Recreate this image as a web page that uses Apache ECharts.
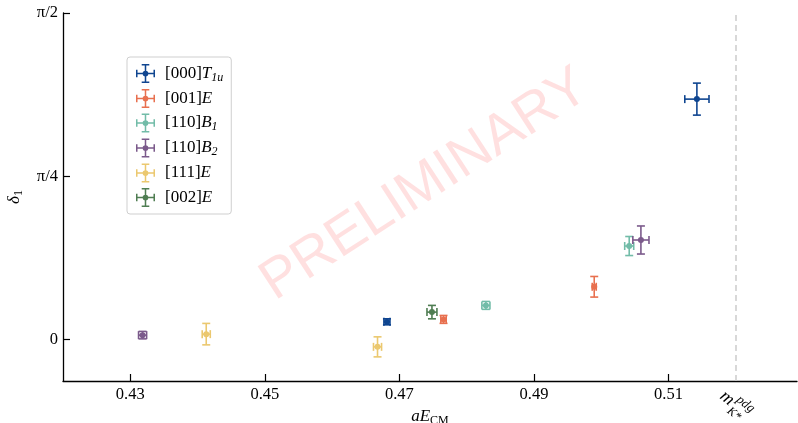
<!DOCTYPE html>
<html><head><meta charset="utf-8">
<script src="https://cdn.jsdelivr.net/npm/echarts@6/dist/echarts.min.js"></script>
<style>html,body{margin:0;padding:0;background:#fff}#c{width:798px;height:423px}</style>
</head><body><div id="c"></div>
<script>
// ---- data ----
const seriesNames = ['[000]T1u', '[001]E', '[110]B1', '[110]B2', '[111]E', '[002]E'];
const t1u_x  = [0.46815, 0.51422];
const t1u_y  = [0.0848, 1.1564];
const t1u_xe = [0.00045, 0.0018];
const t1u_ye = [0.0145, 0.077];
const e001_x  = [0.47656, 0.49896];
const e001_y  = [0.0964, 0.2534];
const e001_xe = [0.0004, 0.0003];
const e001_ye = [0.019, 0.0496];
const b1_x  = [0.48286, 0.50416];
const b1_y  = [0.1638, 0.4495];
const b1_xe = [0.0006, 0.00067];
const b1_ye = [0.019, 0.0458];
const b2_x  = [0.43183, 0.5059];
const b2_y  = [0.0207, 0.4785];
const b2_xe = [0.0006, 0.0012];
const b2_ye = [0.018, 0.0675];
const e111_x  = [0.44129, 0.46675];
const e111_y  = [0.0255, -0.0357];
const e111_xe = [0.0006, 0.0006];
const e111_ye = [0.0516, 0.0482];
const e002_x  = [0.47484];
const e002_y  = [0.1315];
const e002_xe = [0.00074];
const e002_ye = [0.0323];
const mKpdg = 0.51704;
const xTicks = [0.43, 0.45, 0.47, 0.49, 0.51];
const yTicks = [0, Math.PI / 4, Math.PI / 2];
const yTickLabels = ['0', 'π/4', 'π/2'];

const colors = ['#0f4590', '#e8704f', '#72bca8', '#7b5a8b', '#ebc86f', '#4f7d52'];
const groups = [
  [t1u_x, t1u_y, t1u_xe, t1u_ye],
  [e001_x, e001_y, e001_xe, e001_ye],
  [b1_x, b1_y, b1_xe, b1_ye],
  [b2_x, b2_y, b2_xe, b2_ye],
  [e111_x, e111_y, e111_xe, e111_ye],
  [e002_x, e002_y, e002_xe, e002_ye]
];
const legendRich = {
  '[000]T1u': '{n|[000]}{i|T}{s|1u}',
  '[001]E': '{n|[001]}{i|E}',
  '[110]B1': '{n|[110]}{i|B}{s|1}',
  '[110]B2': '{n|[110]}{i|B}{s|2}',
  '[111]E': '{n|[111]}{i|E}',
  '[002]E': '{n|[002]}{i|E}'
};
const SERIF = 'Liberation Serif';
const CAP = 4;

function renderItem(params, api) {
  const x = api.value(0), y = api.value(1), xe = api.value(2), ye = api.value(3);
  const c = api.coord([x, y]);
  const l = api.coord([x - xe, y]), r = api.coord([x + xe, y]);
  const t = api.coord([x, y + ye]), b = api.coord([x, y - ye]);
  const color = api.visual('color');
  const st = { stroke: color, lineWidth: 1.6, fill: null };
  const line = (x1, y1, x2, y2) => ({ type: 'line', shape: { x1, y1, x2, y2 }, style: st });
  return {
    type: 'group',
    children: [
      line(l[0], l[1], r[0], r[1]),
      line(t[0], t[1], b[0], b[1]),
      line(l[0], l[1] - CAP, l[0], l[1] + CAP),
      line(r[0], r[1] - CAP, r[0], r[1] + CAP),
      line(t[0] - CAP, t[1], t[0] + CAP, t[1]),
      line(b[0] - CAP, b[1], b[0] + CAP, b[1]),
      { type: 'circle', shape: { cx: c[0], cy: c[1], r: 3 }, style: { fill: color } }
    ]
  };
}

const series = groups.map((g, i) => ({
  name: seriesNames[i],
  type: 'custom',
  renderItem,
  itemStyle: { color: colors[i] },
  encode: { x: 0, y: 1 },
  z: 3,
  data: g[0].map((xv, k) => [xv, g[1][k], g[2][k], g[3][k]])
}));
series.push({
  type: 'line', data: [], silent: true,
  markLine: {
    silent: true, symbol: 'none', label: { show: false },
    lineStyle: { color: '#cccccc', type: [6, 4], width: 1.5 },
    data: [{ xAxis: mKpdg }]
  }
});

const icon = 'path://M0,9.2h20v1.6h-20z M9.2,0h1.6v20h-1.6z M6,0h8v1.6h-8z M6,18.4h8v1.6h-8z M0,6h1.6v8h-1.6z M18.4,6h1.6v8h-1.6z M13,10A3,3 0 1,1 7,10A3,3 0 1,1 13,10z';

const chart = echarts.init(document.getElementById('c'), null, { renderer: 'canvas' });
chart.setOption({
  animation: false,
  backgroundColor: '#fff',
  grid: { left: 63, right: 1, top: 13, bottom: 42, containLabel: false, outerBoundsMode: 'none' },
  xAxis: {
    type: 'value', min: 0.42, max: 0.5291,
    name: '{i|aE}{s|CM}', nameLocation: 'middle', nameGap: 18,
    nameTextStyle: { rich: {
      i: { fontFamily: SERIF, fontStyle: 'italic', fontSize: 17, color: '#000' },
      s: { fontFamily: SERIF, fontSize: 12, color: '#000', padding: [8, 0, 0, 0] }
    } },
    axisLine: { show: true, onZero: false, lineStyle: { color: '#000', width: 1.3 } },
    axisTick: { show: true, inside: true, length: 7, customValues: xTicks, lineStyle: { color: '#000', width: 1.2 } },
    axisLabel: { customValues: xTicks, formatter: v => v.toFixed(2), fontFamily: SERIF, fontSize: 16.5, color: '#000', margin: 5 },
    splitLine: { show: false }
  },
  yAxis: {
    type: 'value', min: -0.2, max: Math.PI / 2,
    name: '{i|δ}{s|1}', nameLocation: 'middle', nameGap: 38, nameRotate: 90,
    nameTextStyle: { rich: {
      i: { fontFamily: SERIF, fontStyle: 'italic', fontSize: 17, color: '#000' },
      s: { fontFamily: SERIF, fontSize: 12, color: '#000', padding: [8, 0, 0, 0] }
    } },
    axisLine: { show: true, onZero: false, lineStyle: { color: '#000', width: 1.3 } },
    axisTick: { show: true, inside: true, length: 7, customValues: yTicks, lineStyle: { color: '#000', width: 1.2 } },
    axisLabel: {
      customValues: yTicks,
      formatter: v => { for (let k = 0; k < yTicks.length; k++) if (Math.abs(v - yTicks[k]) < 1e-6) return yTickLabels[k]; return ''; },
      fontFamily: SERIF, fontSize: 16.5, color: '#000', margin: 5
    },
    splitLine: { show: false }
  },
  legend: {
    orient: 'vertical', left: 127, top: 57,
    padding: [7, 8, 7, 9], itemGap: 5.5,
    itemWidth: 19, itemHeight: 19, icon,
    borderColor: '#cfcfcf', borderWidth: 1, borderRadius: 3,
    data: seriesNames,
    formatter: n => legendRich[n],
    textStyle: {
      padding: [0, 0, 0, 5],
      rich: {
        n: { fontFamily: SERIF, fontSize: 17, color: '#000' },
        i: { fontFamily: SERIF, fontStyle: 'italic', fontSize: 17, color: '#000' },
        s: { fontFamily: SERIF, fontStyle: 'italic', fontSize: 12, color: '#000', padding: [8, 0, 0, 0] }
      }
    }
  },
  series
});

// watermark and rotated m_K*^pdg label below the dashed line
const px = chart.convertToPixel({ xAxisIndex: 0 }, mKpdg);
chart.setOption({
  graphic: [{
    type: 'text', z: 1, silent: true,
    x: 425, y: 185, rotation: 33 * Math.PI / 180,
    style: { text: 'PRELIMINARY', fontFamily: 'Liberation Sans', fontSize: 56, fill: 'rgba(255,0,0,0.12)', align: 'center', verticalAlign: 'middle' }
  }, {
    type: 'group', x: px + 6, y: 394, rotation: -0.68,
    children: [
      { type: 'text', x: 0, y: 0, style: { text: 'm', fontFamily: SERIF, fontStyle: 'italic', fontSize: 18, fill: '#000', verticalAlign: 'middle' } },
      { type: 'text', x: 15, y: -7, style: { text: 'pdg', fontFamily: SERIF, fontStyle: 'italic', fontSize: 13, fill: '#000', verticalAlign: 'middle' } },
      { type: 'text', x: 15, y: 8, style: { text: 'K*', fontFamily: SERIF, fontStyle: 'italic', fontSize: 12, fill: '#000', verticalAlign: 'middle' } }
    ]
  }]
});
</script></body></html>
